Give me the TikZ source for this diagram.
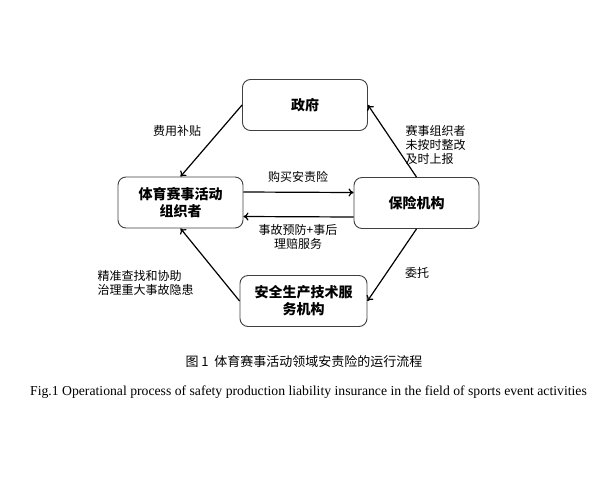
\documentclass[tikz,border=0pt]{standalone}
\usepackage{fontspec}
\setmainfont{Liberation Serif}
\newfontfamily\cjk{Noto Sans CJK SC}
\usetikzlibrary{arrows.meta}
\begin{document}
\begin{tikzpicture}[x=1pt,y=-1pt,
  box/.style={draw=black!75,line width=0.9pt,rounded corners=8pt,minimum width=125pt,minimum height=51pt,align=center,font=\cjk\bfseries\fontsize{14}{17}\selectfont},
  flow/.style={line width=1.2pt,-{To[length=5pt,width=8pt]}},
  lbl/.style={font=\cjk\fontsize{12}{14}\selectfont,align=left}]
\useasboundingbox (0,0) rectangle (600,480);
\node[box] (gov) at (305,105) {政府};
\node[box] (org) at (180.5,202.5) {体育赛事活动\\组织者};
\node[box] (ins) at (416.5,203) {保险机构};
\node[box,minimum width=127pt] (safe) at (303.5,301) {安全生产技术服\\务机构};
\draw[flow] (gov.west) -- (org.north);
\draw[flow] (ins.north) -- (gov.east);
\draw[flow] ([yshift=10.5pt]org.east) -- ([yshift=10.5pt]ins.west);
\draw[flow] ([yshift=-14pt]ins.west) -- ([yshift=-14pt]org.east);
\draw[flow] (ins.south) -- (safe.east);
\draw[flow] (safe.west) -- (org.south);
\node[lbl] (l1) at (177,131) {费用补贴};
\node[lbl,anchor=west] (l2) at (402,145) {赛事组织者\\未按时整改\\及时上报};
\node[lbl] (l3) at (298,177) {购买安责险};
\node[lbl,align=center] (l4) at (298,237) {事故预防+事后\\理赔服务};
\node[lbl,anchor=west] (l5) at (94,283) {精准查找和协助\\治理重大事故隐患};
\node[lbl] (l6) at (417,273) {委托};
\node[font=\cjk\fontsize{13}{15}\selectfont] (cap) at (304,362) {图 1\ \ 体育赛事活动领域安责险的运行流程};
\node[font=\fontsize{13.7}{16}\selectfont] (capen) at (308.5,392) {Fig.1 Operational process of safety production liability insurance in the field of sports event activities};
\end{tikzpicture}
\end{document}
